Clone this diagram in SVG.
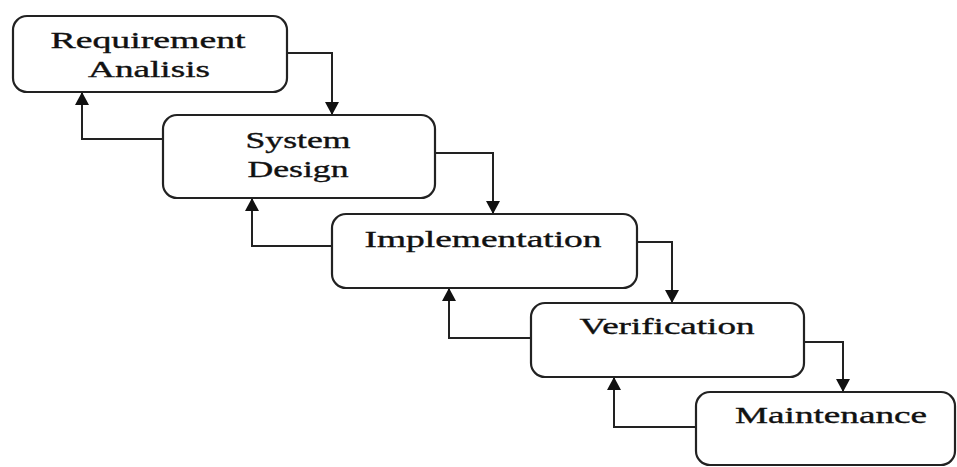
<svg xmlns="http://www.w3.org/2000/svg" width="957" height="467" viewBox="0 0 957 467">
<defs>
<marker id="ah" markerWidth="14" markerHeight="16" refX="12" refY="7" orient="auto" markerUnits="userSpaceOnUse">
<path d="M0,0 L13,7 L0,14 Z" fill="#111"/>
</marker>
<style>
.box{fill:#fff;stroke:#222;stroke-width:2.2}
.lbl{font-family:"Liberation Serif","Times New Roman",serif;font-size:23px;fill:#111;stroke:#111;stroke-width:0.35;text-anchor:middle}
.con{fill:none;stroke:#222;stroke-width:2;marker-end:url(#ah)}
</style>
</defs>
<rect width="957" height="467" fill="#fff"/>
<g id="connectors">
<path class="con" d="M287,53 H332 V114"/>
<path class="con" d="M163,139 H82 V93"/>
<path class="con" d="M435,153 H493 V213"/>
<path class="con" d="M332,246 H252 V199"/>
<path class="con" d="M637,242 H672 V302"/>
<path class="con" d="M531,338 H449 V289"/>
<path class="con" d="M804,342 H843 V391"/>
<path class="con" d="M696,427 H614 V378"/>
</g>
<g id="n1">
<rect class="box" x="13" y="16" width="274" height="76" rx="14"/>
<text class="lbl" x="148" y="48" textLength="195" lengthAdjust="spacingAndGlyphs">Requirement</text>
<text class="lbl" x="149" y="77" textLength="122" lengthAdjust="spacingAndGlyphs">Analisis</text>
</g>
<g id="n2">
<rect class="box" x="163" y="115" width="272" height="83" rx="14"/>
<text class="lbl" x="298" y="148" textLength="105" lengthAdjust="spacingAndGlyphs">System</text>
<text class="lbl" x="298" y="177" textLength="101" lengthAdjust="spacingAndGlyphs">Design</text>
</g>
<g id="n3">
<rect class="box" x="332" y="214" width="305" height="74" rx="14"/>
<text class="lbl" x="483" y="247" textLength="237" lengthAdjust="spacingAndGlyphs">Implementation</text>
</g>
<g id="n4">
<rect class="box" x="531" y="303" width="273" height="74" rx="14"/>
<text class="lbl" x="667" y="334" textLength="175" lengthAdjust="spacingAndGlyphs">Verification</text>
</g>
<g id="n5">
<rect class="box" x="696" y="392" width="259" height="73" rx="14"/>
<text class="lbl" x="831" y="423" textLength="192" lengthAdjust="spacingAndGlyphs">Maintenance</text>
</g>
</svg>
